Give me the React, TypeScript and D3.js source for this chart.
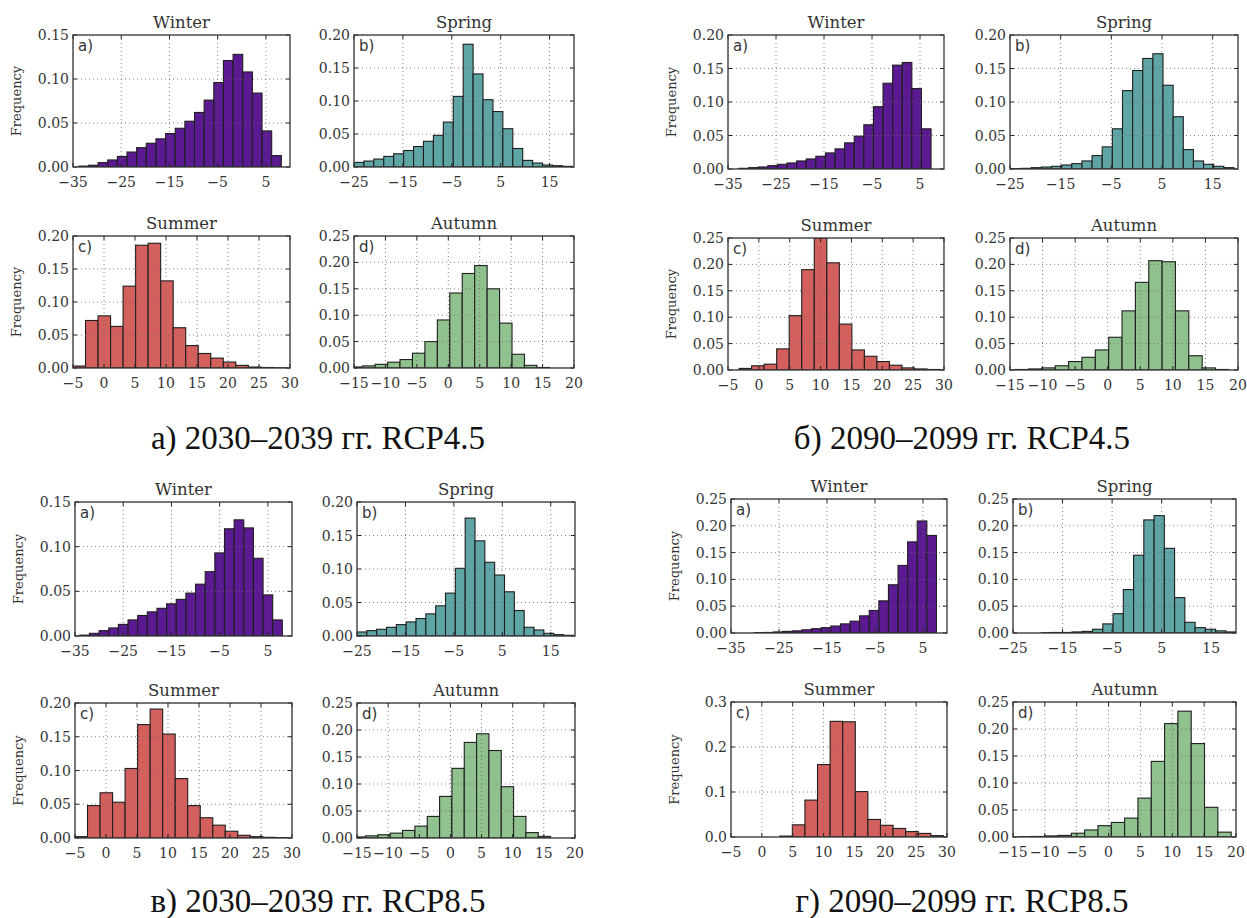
import React from 'react';
import * as d3 from 'd3';

// seasons and their look
const seasons = ['Winter', 'Spring', 'Summer', 'Autumn'];
const letters = ['a)', 'b)', 'c)', 'd)'];
const colors = ['#5c1a92', '#5fa5a5', '#d4605e', '#8fc28f'];
const xLims = [[-35, 10], [-25, 20], [-5, 30], [-15, 20]];
const xTicks = [
  [-35, -25, -15, -5, 5],
  [-25, -15, -5, 5, 15],
  [-5, 0, 5, 10, 15, 20, 25, 30],
  [-15, -10, -5, 0, 5, 10, 15, 20],
];

// а) 2030–2039 RCP4.5
const winterA = [0.001, 0.002, 0.005, 0.008, 0.012, 0.017, 0.022, 0.027, 0.032, 0.038, 0.044, 0.052, 0.062, 0.076, 0.096, 0.121, 0.128, 0.108, 0.084, 0.041, 0.013];
const springA = [0.007, 0.009, 0.012, 0.016, 0.020, 0.025, 0.031, 0.039, 0.048, 0.068, 0.107, 0.186, 0.141, 0.102, 0.084, 0.058, 0.028, 0.010, 0.006, 0.003, 0.002, 0.001];
const summerA = [0.003, 0.072, 0.079, 0.063, 0.124, 0.186, 0.189, 0.132, 0.061, 0.034, 0.022, 0.015, 0.009, 0.004, 0.0015, 0.0008, 0.0003];
const autumnA = [0.002, 0.004, 0.007, 0.011, 0.016, 0.028, 0.050, 0.091, 0.142, 0.179, 0.194, 0.150, 0.085, 0.026, 0.005, 0.001];
const binStartA = [-33.8, -25, -5, -15.6];
const binWidthA = [2.0, 2.03, 2.02, 1.98];
const yMaxA = [0.15, 0.2, 0.2, 0.25];

// б) 2090–2099 RCP4.5
const winterB = [0.001, 0.002, 0.003, 0.005, 0.007, 0.009, 0.012, 0.015, 0.019, 0.024, 0.030, 0.039, 0.049, 0.066, 0.093, 0.128, 0.155, 0.159, 0.120, 0.060];
const springB = [0.0005, 0.001, 0.002, 0.003, 0.004, 0.006, 0.008, 0.012, 0.020, 0.033, 0.060, 0.117, 0.147, 0.165, 0.172, 0.125, 0.078, 0.029, 0.012, 0.007, 0.004, 0.002];
const summerB = [0.003, 0.008, 0.011, 0.040, 0.103, 0.190, 0.250, 0.203, 0.087, 0.038, 0.026, 0.016, 0.009, 0.004, 0.002, 0.001];
const autumnB = [0.001, 0.002, 0.004, 0.008, 0.016, 0.024, 0.038, 0.062, 0.112, 0.166, 0.207, 0.205, 0.112, 0.027, 0.004, 0.001];
const binStartB = [-32.7, -24.8, -3.2, -14.2];
const binWidthB = [2.0, 2.0, 2.03, 2.05];
const yMaxB = [0.2, 0.2, 0.25, 0.25];

// в) 2030–2039 RCP8.5
const winterC = [0.001, 0.003, 0.006, 0.009, 0.013, 0.018, 0.023, 0.027, 0.031, 0.036, 0.041, 0.048, 0.058, 0.072, 0.093, 0.120, 0.130, 0.121, 0.087, 0.046, 0.018];
const springC = [0.006, 0.008, 0.010, 0.013, 0.017, 0.021, 0.026, 0.033, 0.045, 0.064, 0.101, 0.176, 0.142, 0.110, 0.091, 0.066, 0.038, 0.013, 0.009, 0.004, 0.002, 0.001];
const summerC = [0.002, 0.048, 0.067, 0.053, 0.103, 0.168, 0.191, 0.154, 0.088, 0.048, 0.030, 0.019, 0.010, 0.004, 0.002, 0.001, 0.0005];
const autumnC = [0.002, 0.004, 0.006, 0.009, 0.014, 0.022, 0.040, 0.077, 0.129, 0.177, 0.193, 0.162, 0.095, 0.040, 0.010, 0.003];
const binStartC = [-34, -25, -5, -15.6];
const binWidthC = [2.0, 2.03, 2.02, 1.98];
const yMaxC = [0.15, 0.2, 0.2, 0.25];

// г) 2090–2099 RCP8.5
const winterD = [0.0005, 0.001, 0.002, 0.003, 0.004, 0.006, 0.008, 0.010, 0.013, 0.017, 0.022, 0.032, 0.042, 0.060, 0.090, 0.126, 0.170, 0.209, 0.182];
const springD = [0.0005, 0.001, 0.001, 0.002, 0.003, 0.007, 0.017, 0.036, 0.081, 0.145, 0.211, 0.219, 0.158, 0.066, 0.020, 0.010, 0.007, 0.004, 0.002];
const summerD = [0.002, 0.027, 0.082, 0.161, 0.257, 0.256, 0.101, 0.039, 0.026, 0.019, 0.012, 0.008, 0.003];
const autumnD = [0.0005, 0.001, 0.002, 0.003, 0.007, 0.013, 0.021, 0.027, 0.035, 0.072, 0.140, 0.210, 0.233, 0.173, 0.055, 0.009];
const binStartD = [-30.2, -19.3, 2.9, -14.2];
const binWidthD = [2.0, 2.07, 2.04, 2.09];
const yMaxD = [0.25, 0.25, 0.3, 0.25];

const captions = [
  'а) 2030–2039 гг. RCP4.5',
  'б) 2090–2099 гг. RCP4.5',
  'в) 2030–2039 гг. RCP8.5',
  'г) 2090–2099 гг. RCP8.5',
];

const figures = [
  { values: [winterA, springA, summerA, autumnA], start: binStartA, width: binWidthA, yMax: yMaxA },
  { values: [winterB, springB, summerB, autumnB], start: binStartB, width: binWidthB, yMax: yMaxB },
  { values: [winterC, springC, summerC, autumnC], start: binStartC, width: binWidthC, yMax: yMaxC },
  { values: [winterD, springD, summerD, autumnD], start: binStartD, width: binWidthD, yMax: yMaxD },
];

// frame positions of each figure: two columns, two rows, caption centre
const layout = [
  { cols: [[73, 290], [354, 574]], rows: [[35, 167], [236, 368]], cap: [318, 449] },
  { cols: [[728, 944], [1010, 1238]], rows: [[35, 169], [238, 370]], cap: [962, 449] },
  { cols: [[75, 292], [357, 575]], rows: [[502, 636], [703, 838]], cap: [318, 912] },
  { cols: [[731, 947], [1013, 1236]], rows: [[499, 633], [702, 837]], cap: [962, 912] },
];

const serif = '"DejaVu Serif", serif';
const fmtX = (v: number) => (v < 0 ? '\u2212' + Math.abs(v) : String(v));

function Hist({ id, si, x0, x1, y0, y1, values, start, width, yMax, yLabel }: any) {
  const x = d3.scaleLinear().domain(xLims[si]).range([x0, x1]);
  const y = d3.scaleLinear().domain([0, yMax]).range([y1, y0]);
  const step = yMax >= 0.3 ? 0.1 : 0.05;
  const yTicks = d3.range(0, yMax + step / 2, step);
  const dec = step === 0.1 ? 1 : 2;
  const clip = 'clip-' + id;
  const tl = 4;
  return (
    <g>
      <clipPath id={clip}>
        <rect x={x0} y={y0} width={x1 - x0} height={y1 - y0} />
      </clipPath>
      <rect x={x0} y={y0} width={x1 - x0} height={y1 - y0} fill="#fff" />
      <g clipPath={`url(#${clip})`}>
        {values.map((v: number, i: number) => {
          const a = start + i * width;
          return (
            <rect
              key={i}
              x={x(a)}
              y={y(v)}
              width={x(a + width) - x(a)}
              height={y(0) - y(v)}
              fill={colors[si]}
              stroke="#1e1e1e"
              strokeWidth={1.1}
            />
          );
        })}
        {xTicks[si].map((t) => (
          <line key={'gx' + t} x1={x(t)} x2={x(t)} y1={y0} y2={y1} stroke="#666" strokeWidth={0.8} strokeDasharray="1,3" />
        ))}
        {yTicks.map((t, i) => (
          <line key={'gy' + i} x1={x0} x2={x1} y1={y(t)} y2={y(t)} stroke="#666" strokeWidth={0.8} strokeDasharray="1,3" />
        ))}
      </g>
      {xTicks[si].map((t) => (
        <g key={'tx' + t}>
          <line x1={x(t)} x2={x(t)} y1={y1} y2={y1 - tl} stroke="#222" />
          <line x1={x(t)} x2={x(t)} y1={y0} y2={y0 + tl} stroke="#222" />
          <text x={x(t)} y={y1 + 20} textAnchor="middle" fontFamily={serif} fontSize={14} fill="#333">
            {fmtX(t)}
          </text>
        </g>
      ))}
      {yTicks.map((t, i) => (
        <g key={'ty' + i}>
          <line x1={x0} x2={x0 + tl} y1={y(t)} y2={y(t)} stroke="#222" />
          <line x1={x1} x2={x1 - tl} y1={y(t)} y2={y(t)} stroke="#222" />
          <text x={x0 - 4} y={y(t) + 5} textAnchor="end" fontFamily={serif} fontSize={14} fill="#333">
            {t.toFixed(dec)}
          </text>
        </g>
      ))}
      <rect x={x0} y={y0} width={x1 - x0} height={y1 - y0} fill="none" stroke="#333" strokeWidth={1.3} />
      <text x={(x0 + x1) / 2} y={y0 - 7} textAnchor="middle" fontFamily={serif} fontSize={16.5} fill="#333">
        {seasons[si]}
      </text>
      <text x={x0 + 5} y={y0 + 16} fontFamily='"DejaVu Sans", sans-serif' fontSize={15} fill="#333">
        {letters[si]}
      </text>
      {yLabel && (
        <text
          transform={`translate(${x0 - 52},${(y0 + y1) / 2}) rotate(-90)`}
          textAnchor="middle"
          fontFamily={serif}
          fontSize={13}
          fill="#333"
        >
          Frequency
        </text>
      )}
    </g>
  );
}

export default function App() {
  return (
    <svg
      width={1247}
      height={918}
      style={{ position: 'absolute', left: 0, top: 0, background: '#fff' }}
    >
      {figures.map((f, fi) => {
        const L = layout[fi];
        return (
          <g key={fi}>
            {seasons.map((s, si) => {
              const col = L.cols[si % 2];
              const row = L.rows[Math.floor(si / 2)];
              return (
                <Hist
                  key={s}
                  id={`${fi}-${si}`}
                  si={si}
                  x0={col[0]}
                  x1={col[1]}
                  y0={row[0]}
                  y1={row[1]}
                  values={f.values[si]}
                  start={f.start[si]}
                  width={f.width[si]}
                  yMax={f.yMax[si]}
                  yLabel={si % 2 === 0}
                />
              );
            })}
            <text
              x={L.cap[0]}
              y={L.cap[1]}
              textAnchor="middle"
              fontFamily='"Liberation Serif", "Times New Roman", serif'
              fontSize={33}
              fill="#111"
            >
              {captions[fi]}
            </text>
          </g>
        );
      })}
    </svg>
  );
}
